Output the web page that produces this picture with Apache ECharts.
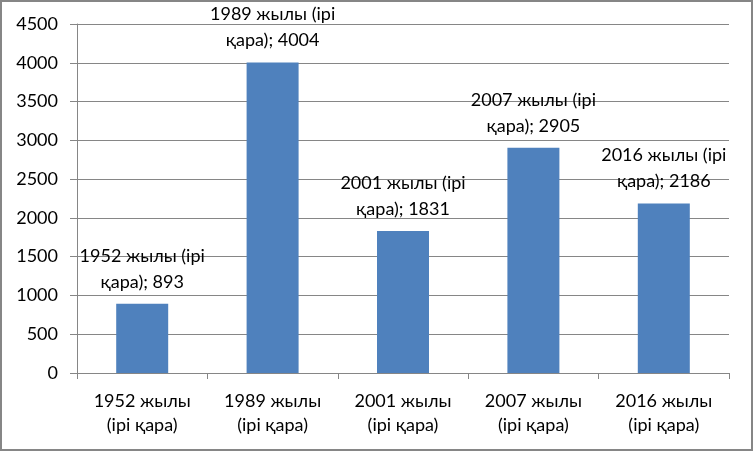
<!DOCTYPE html>
<html>
<head>
<meta charset="utf-8">
<script src="https://cdn.jsdelivr.net/npm/echarts@6/dist/echarts.min.js"></script>
<style>
html,body{margin:0;padding:0;background:#fff;}
#c{width:753px;height:451px;box-sizing:border-box;border:2px solid #868686;}
</style>
</head>
<body>
<div id="c"></div>
<script>
const years = ['1952', '1989', '2001', '2007', '2016'];
const categories = ['1952 жылы\n(ірі қара)', '1989 жылы\n(ірі қара)', '2001 жылы\n(ірі қара)', '2007 жылы\n(ірі қара)', '2016 жылы\n(ірі қара)'];
const values = [893, 4004, 1831, 2905, 2186];

const FONT = 'Lato, "Open Sans", sans-serif';
const chart = echarts.init(document.getElementById('c'));
chart.setOption({
  animation: false,
  grid: { left: 75, right: 22, top: 22, bottom: 76 },
  xAxis: {
    type: 'category',
    data: categories,
    axisLine: { lineStyle: { color: '#868686', width: 1 } },
    axisTick: { show: true, length: 6, lineStyle: { color: '#868686' } },
    axisLabel: { color: '#000', fontFamily: FONT, fontSize: 18, lineHeight: 24, margin: 16 }
  },
  yAxis: {
    type: 'value',
    min: 0, max: 4500, interval: 500,
    axisLine: { show: true, lineStyle: { color: '#868686', width: 1 } },
    axisTick: { show: true, length: 7, lineStyle: { color: '#868686' } },
    splitLine: { show: true, lineStyle: { color: '#868686', width: 1 } },
    axisLabel: { color: '#000', fontFamily: FONT, fontSize: 18, margin: 19, formatter: v => String(v) }
  },
  series: [{
    type: 'bar',
    data: values,
    barWidth: 52,
    itemStyle: { color: '#4F81BD' },
    label: {
      show: true,
      position: 'top',
      distance: 9,
      color: '#000',
      fontFamily: FONT,
      fontSize: 18,
      lineHeight: 26,
      align: 'center',
      formatter: p => years[p.dataIndex] + ' жылы (ірі\nқара); ' + p.value
    }
  }]
});
</script>
</body>
</html>
